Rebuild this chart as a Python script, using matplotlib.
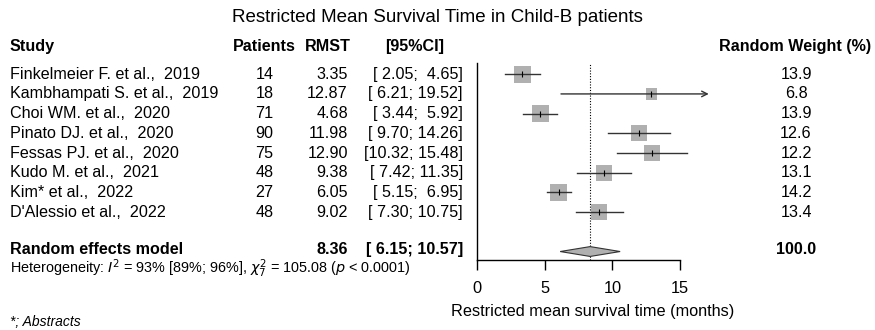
import matplotlib
matplotlib.use('Agg')
import matplotlib.pyplot as plt
from matplotlib.patches import Polygon
from matplotlib.transforms import blended_transform_factory
import numpy as np

plt.rcParams['font.family'] = ['Liberation Sans', 'DejaVu Sans']

studies = ['Finkelmeier F. et al.,  2019', 'Kambhampati S. et al.,  2019',
           'Choi WM. et al.,  2020', 'Pinato DJ. et al.,  2020',
           'Fessas PJ. et al.,  2020', 'Kudo M. et al.,  2021',
           'Kim* et al.,  2022', "D'Alessio et al.,  2022"]
patients = [14, 18, 71, 90, 75, 48, 27, 48]
rmst = [3.35, 12.87, 4.68, 11.98, 12.90, 9.38, 6.05, 9.02]
lower = [2.05, 6.21, 3.44, 9.70, 10.32, 7.42, 5.15, 7.30]
upper = [4.65, 19.52, 5.92, 14.26, 15.48, 11.35, 6.95, 10.75]
weights = [13.9, 6.8, 13.9, 12.6, 12.2, 13.1, 14.2, 13.4]

pooled = 8.36
pooled_lo = 6.15
pooled_hi = 10.57

W, H = 875, 330
fig = plt.figure(figsize=(W / 100, H / 100), dpi=100)

# forest panel: x 0 at px 476.7, 13.57 px per month
x0 = 476.7
ppu = 13.57
xmax = 17.1
ax = fig.add_axes([x0 / W, 1 - 260 / H, xmax * ppu / W, (260 - 63) / H])
ax.set_xlim(0, xmax)
ax.set_ylim(9.43, -0.57)

for s in ['top', 'right']:
    ax.spines[s].set_visible(False)
ax.spines['bottom'].set_bounds(0, 15)
ax.spines['left'].set_linewidth(1.0)
ax.spines['bottom'].set_linewidth(1.0)
ax.set_yticks([])
ax.set_xticks([0, 5, 10, 15])
ax.tick_params(axis='x', length=7, width=1.0, labelsize=11.8, pad=8)
ax.set_xlabel('Restricted mean survival time (months)', fontsize=11.7, labelpad=6)

ax.axvline(pooled, color='black', ls=(0, (1, 1.5)), lw=0.8)

rows = np.arange(len(studies))
ax.scatter(rmst, rows, marker='s', s=np.array(weights) * 10.4,
           color='#b0b0b0', edgecolor='none', zorder=2)
for i in rows:
    hi = min(upper[i], xmax)
    if upper[i] > xmax:
        ax.annotate('', xy=(xmax, i), xytext=(lower[i], i),
                    arrowprops=dict(arrowstyle='->', color='#333333', lw=1.0,
                                    shrinkA=0, shrinkB=0), annotation_clip=False)
    else:
        ax.plot([lower[i], hi], [i, i], color='#333333', lw=1.0, zorder=3)
ax.scatter(rmst, rows, marker='|', s=25, color='black', lw=0.8, zorder=4)

sy = 9
h = 0.25
ax.add_patch(Polygon([(pooled_lo, sy), (pooled, sy - h), (pooled_hi, sy), (pooled, sy + h)],
                     closed=True, facecolor='#b0b0b0', edgecolor='#333333', lw=0.8, zorder=3))

# text columns: x in pixels (figure), y in row units
tr = blended_transform_factory(fig.transFigure, ax.transData)
fs = 11.6

def put(px, y, s, ha='left', bold=False, size=fs):
    ax.text(px / W, y, s, transform=tr, ha=ha, va='center', fontsize=size,
            fontweight='bold' if bold else 'normal', clip_on=False)

hy = -1.39
put(10, hy, 'Study', bold=True)
put(264, hy, 'Patients', ha='center', bold=True)
put(351, hy, 'RMST', ha='right', bold=True)
put(415, hy, '[95%CI]', ha='center', bold=True)
put(795, hy, 'Random Weight (%)', ha='center', bold=True)

for i in rows:
    put(10, i, studies[i])
    put(264.5, i, str(patients[i]), ha='center')
    put(348, i, '%.2f' % rmst[i], ha='right')
    put(463, i, '[%5.2f; %5.2f]' % (lower[i], upper[i]), ha='right')
    put(796, i, '%.1f' % weights[i], ha='center')

sty = sy - 0.08
put(10, sty, 'Random effects model', bold=True)
put(348, sty, '%.2f' % pooled, ha='right', bold=True)
put(463, sty, '[%5.2f; %5.2f]' % (pooled_lo, pooled_hi), ha='right', bold=True)
put(796, sty, '100.0', ha='center', bold=True)

put(10, 9.86, r'Heterogeneity: $I^2$ = 93% [89%; 96%], $\chi^2_7$ = 105.08 ($p$ < 0.0001)', size=10.4)

fig.text(10 / W, 1 - 322 / H, '*; Abstracts', fontsize=10, style='italic', va='center')
fig.text(0.5, 1 - 18 / H, 'Restricted Mean Survival Time in Child-B patients',
         ha='center', va='center', fontsize=13.5)

fig.savefig('out.png', dpi=100)
